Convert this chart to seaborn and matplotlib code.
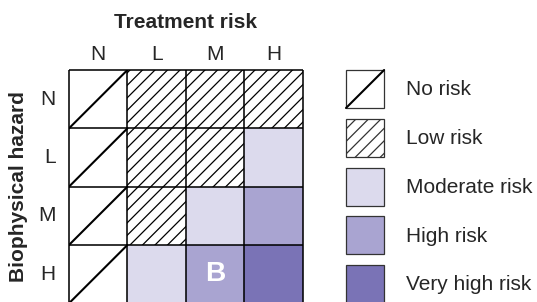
import numpy as np
import pandas as pd
import seaborn as sns
import matplotlib.pyplot as plt
import matplotlib.patches as mpatches
from matplotlib.colors import ListedColormap
from matplotlib.lines import Line2D
from matplotlib.legend_handler import HandlerBase

# data
treatment = ["N", "L", "M", "H"]
hazard = ["N", "L", "M", "H"]
levels = ["No risk", "Low risk", "Moderate risk", "High risk", "Very high risk"]
level_colors = ["white", "white", "#dcdaed", "#a9a4d1", "#7a73b6"]
hatched = [False, True, False, False, False]
# risk level per cell, rows = biophysical hazard, columns = treatment risk
risk_N = [0, 1, 1, 1]
risk_L = [0, 1, 1, 2]
risk_M = [0, 1, 2, 3]
risk_H = [0, 2, 3, 4]
marked_cell = ("H", "M", "B")

sns.set_style("white")
plt.rcParams["font.family"] = ["Liberation Sans", "DejaVu Sans"]
plt.rcParams["hatch.linewidth"] = 1.2
fs = 20

df = pd.DataFrame([risk_N, risk_L, risk_M, risk_H], index=hazard, columns=treatment)
annot = pd.DataFrame("", index=hazard, columns=treatment)
annot.loc[marked_cell[0], marked_cell[1]] = marked_cell[2]

fig = plt.figure(figsize=(537 / 75, 302 / 75), dpi=75)
ax = fig.add_axes([69 / 537, -1.3 / 302, 233.7 / 537, 233.3 / 302])

sns.heatmap(df, ax=ax, cmap=ListedColormap(level_colors), vmin=-0.5, vmax=4.5,
            cbar=False, annot=annot, fmt="", linewidths=0,
            annot_kws={"color": "white", "weight": "bold", "size": 27})

# hatching and diagonals
for i in range(len(hazard)):
    for j in range(len(treatment)):
        v = df.iloc[i, j]
        if hatched[v]:
            ax.add_patch(mpatches.Rectangle((j, i), 1, 1, fill=False, hatch="//",
                                            edgecolor="black", linewidth=0, zorder=2))
        if v == 0:
            ax.plot([j, j + 1], [i + 1, i], color="black", lw=2, zorder=3)

# grid lines
ax.hlines(range(len(hazard) + 1), 0, len(treatment), color="black", lw=1.5, zorder=5, clip_on=False)
ax.vlines(range(len(treatment) + 1), 0, len(hazard), color="black", lw=1.5, zorder=5, clip_on=False)

ax.xaxis.tick_top()
ax.xaxis.set_label_position("top")
ax.tick_params(axis="both", length=0, labelsize=fs)
ax.tick_params(axis="x", pad=6)
ax.tick_params(axis="y", pad=13)
ax.set_yticklabels(hazard, rotation=0)
ax.set_xlabel("Treatment risk", fontsize=fs, weight="bold", labelpad=16)
ax.set_ylabel("Biophysical hazard", fontsize=fs, weight="bold", labelpad=10)


class Swatch(HandlerBase):
    def __init__(self, diagonal=False):
        super().__init__()
        self.diagonal = diagonal

    def create_artists(self, legend, orig, xd, yd, w, h, fontsize, trans):
        r = mpatches.Rectangle((-xd, -yd), w, h, facecolor=orig.get_facecolor(),
                               hatch=orig.get_hatch(), edgecolor="#333333", lw=1.2,
                               transform=trans)
        arts = [r]
        if self.diagonal:
            arts.append(Line2D([-xd, -xd + w], [-yd, h - yd], color="black", lw=2,
                               transform=trans))
        return arts


handles = []
hmap = {}
for k, name in enumerate(levels):
    p = mpatches.Patch(facecolor=level_colors[k], hatch="//" if hatched[k] else None,
                       edgecolor="#333333", label=name)
    handles.append(p)
    hmap[p] = Swatch(diagonal=(k == 0))

fig.legend(handles=handles, handler_map=hmap, loc="upper left",
           bbox_to_anchor=(346 / 537, 1 - 70 / 302), frameon=False, fontsize=fs,
           borderpad=0, borderaxespad=0, handlelength=1.83, handleheight=2.43,
           handletextpad=1.05, labelspacing=0.516)

fig.savefig("out.png", dpi=75)
